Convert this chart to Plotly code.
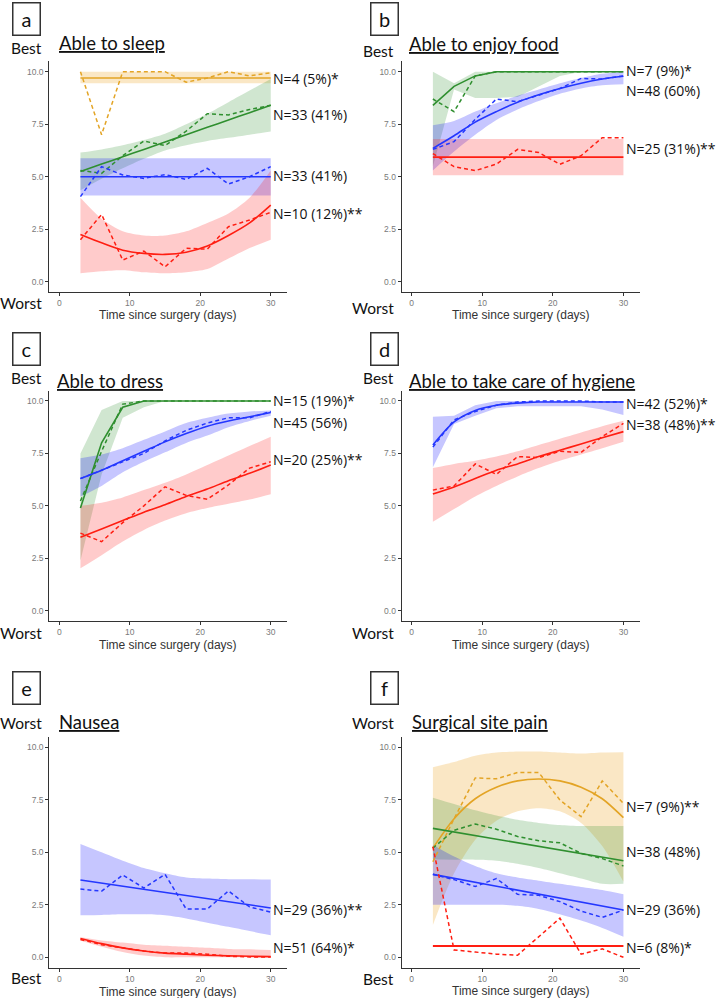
import plotly.graph_objects as go

W, H = 721, 998

# ---------------- data ----------------
days = [3, 6, 9, 12, 15, 18, 21, 24, 27, 30]
x_ticks = [0, 10, 20, 30]
y_ticks = [0, 2.5, 5, 7.5, 10]
y_tick_labels = ["0.0", "2.5", "5.0", "7.5", "10.0"]
x_title = "Time since surgery (days)"

panel_letters = ["a", "b", "c", "d", "e", "f"]
panel_titles = ["Able to sleep", "Able to enjoy food", "Able to dress",
                "Able to take care of hygiene", "Nausea", "Surgical site pain"]
top_labels = ["Best", "Best", "Best", "Best", "Worst", "Worst"]
bottom_labels = ["Worst", "Worst", "Worst", "Worst", "Best", "Best"]

# Panel a: Able to sleep
a_gold_obs = [10.0, 7.0, 10.0, 10.0, 10.0, 9.5, 9.7, 10.0, 9.8, 9.95]
a_gold_fit = [9.7] * 10
a_gold_lo = [9.45] * 10
a_gold_hi = [10.0] * 10
a_green_obs = [5.3, 5.16, 6.0, 6.7, 6.48, 7.17, 8.0, 7.94, 8.2, 8.4]
a_green_fit = [5.25, 5.6, 5.95, 6.3, 6.65, 7.0, 7.35, 7.7, 8.05, 8.4]
a_green_lo = [4.35, 4.9, 5.4, 5.85, 6.25, 6.5, 6.7, 6.85, 7.0, 7.15]
a_green_hi = [6.15, 6.3, 6.5, 6.75, 7.05, 7.5, 8.0, 8.55, 9.1, 9.65]
a_blue_obs = [4.05, 5.48, 5.08, 4.92, 5.1, 4.87, 5.4, 4.65, 5.0, 5.48]
a_blue_fit = [5.0] * 10
a_blue_lo = [4.1] * 10
a_blue_hi = [5.88] * 10
a_red_obs = [2.0, 3.2, 1.03, 1.46, 0.71, 1.59, 1.55, 2.62, 2.94, 3.3]
a_red_fit = [2.25, 1.85, 1.5, 1.35, 1.3, 1.4, 1.7, 2.2, 2.8, 3.65]
a_red_lo = [0.4, 0.5, 0.55, 0.45, 0.4, 0.45, 0.6, 1.1, 1.6, 2.0]
a_red_hi = [4.0, 3.0, 2.4, 2.2, 2.2, 2.4, 2.8, 3.25, 4.0, 5.3]
a_labels = ["N=4 (5%)*", "N=33 (41%)", "N=33 (41%)", "N=10 (12%)**"]

# Panel b: Able to enjoy food
b_green_obs = [8.7, 8.1, 9.8, 10.0, 10.0, 10.0, 10.0, 10.0, 10.0, 10.0]
b_green_fit = [8.4, 9.3, 9.8, 10.0, 10.0, 10.0, 10.0, 10.0, 10.0, 10.0]
b_green_lo = [5.5, 9.15, 8.75, 8.75, 8.8, 9.3, 9.8, 10.0, 10.0, 10.0]
b_green_hi = [10.0, 9.45, 10.0, 10.0, 10.0, 10.0, 10.0, 10.0, 10.0, 10.0]
b_blue_obs = [6.3, 6.67, 7.73, 8.7, 8.57, 8.9, 9.2, 9.68, 9.65, 9.8]
b_blue_fit = [6.35, 6.95, 7.6, 8.1, 8.55, 8.9, 9.2, 9.45, 9.65, 9.78]
b_blue_lo = [5.3, 6.2, 7.0, 7.7, 8.2, 8.6, 8.95, 9.2, 9.35, 9.4]
b_blue_hi = [7.45, 7.65, 8.1, 8.5, 8.85, 9.15, 9.45, 9.7, 9.9, 10.0]
b_red_obs = [6.1, 5.48, 5.29, 5.6, 6.3, 6.15, 5.59, 6.0, 6.86, 6.86]
b_red_fit = [5.93] * 10
b_red_lo = [5.07] * 10
b_red_hi = [6.79] * 10
b_labels = ["N=7 (9%)*", "N=48 (60%)", "N=25 (31%)**"]

# Panel c: Able to dress
c_green_obs = [5.23, 7.6, 9.85, 10.0, 10.0, 10.0, 10.0, 10.0, 10.0, 10.0]
c_green_fit = [4.9, 8.01, 9.7, 10.0, 10.0, 10.0, 10.0, 10.0, 10.0, 10.0]
c_green_lo = [2.4, 6.5, 9.2, 9.7, 10.0, 10.0, 10.0, 10.0, 10.0, 10.0]
c_green_hi = [7.5, 9.57, 10.0, 10.0, 10.0, 10.0, 10.0, 10.0, 10.0, 10.0]
c_blue_obs = [6.3, 6.7, 7.1, 7.5, 8.1, 8.6, 8.95, 9.2, 9.2, 9.5]
c_blue_fit = [6.3, 6.7, 7.15, 7.6, 8.05, 8.45, 8.8, 9.05, 9.25, 9.45]
c_blue_lo = [5.44, 5.95, 6.6, 7.1, 7.55, 8.0, 8.35, 8.75, 9.05, 9.3]
c_blue_hi = [7.27, 7.45, 7.75, 8.15, 8.55, 8.95, 9.2, 9.4, 9.5, 9.55]
c_red_obs = [3.7, 3.29, 4.2, 5.0, 5.91, 5.5, 5.31, 6.0, 6.8, 7.1]
c_red_fit = [3.5, 3.9, 4.3, 4.7, 5.05, 5.45, 5.8, 6.2, 6.55, 6.95]
c_red_lo = [2.02, 2.65, 3.3, 3.85, 4.3, 4.65, 4.9, 5.1, 5.3, 5.55]
c_red_hi = [5.0, 5.15, 5.4, 5.75, 6.1, 6.5, 6.95, 7.4, 7.85, 8.3]
c_labels = ["N=15 (19%)*", "N=45 (56%)", "N=20 (25%)**"]

# Panel d: Able to take care of hygiene
d_blue_obs = [7.8, 9.1, 9.5, 9.8, 9.95, 10.0, 10.0, 10.0, 9.95, 9.95]
d_blue_fit = [7.9, 9.0, 9.55, 9.8, 9.9, 9.95, 9.95, 9.95, 9.95, 9.95]
d_blue_lo = [6.84, 8.9, 9.3, 9.65, 9.75, 9.75, 9.75, 9.75, 9.6, 9.33]
d_blue_hi = [9.25, 9.3, 9.8, 10.0, 10.0, 10.0, 10.0, 10.0, 10.0, 10.0]
d_red_obs = [5.75, 5.95, 7.0, 6.5, 7.35, 7.3, 7.6, 7.55, 8.3, 8.93]
d_red_fit = [5.56, 5.9, 6.3, 6.7, 7.0, 7.35, 7.65, 7.95, 8.25, 8.54]
d_red_lo = [4.24, 4.85, 5.45, 5.95, 6.4, 6.8, 7.15, 7.45, 7.75, 8.06]
d_red_hi = [6.8, 7.0, 7.15, 7.35, 7.6, 7.9, 8.2, 8.5, 8.8, 9.06]
d_labels = ["N=42 (52%)*", "N=38 (48%)**"]

# Panel e: Nausea
e_blue_obs = [3.25, 3.15, 3.92, 3.3, 3.95, 2.3, 2.3, 3.16, 2.4, 2.15]
e_blue_fit = [3.68, 3.53, 3.38, 3.23, 3.08, 2.93, 2.8, 2.65, 2.5, 2.35]
e_blue_lo = [2.0, 2.02, 2.05, 2.05, 2.0, 1.85, 1.65, 1.45, 1.25, 1.05]
e_blue_hi = [5.4, 5.0, 4.6, 4.25, 4.0, 3.8, 3.75, 3.72, 3.72, 3.7]
e_red_obs = [0.85, 0.6, 0.45, 0.3, 0.2, 0.2, 0.15, 0.05, 0.02, 0.02]
e_red_fit = [0.9, 0.65, 0.45, 0.3, 0.2, 0.15, 0.1, 0.07, 0.05, 0.03]
e_red_lo = [0.8, 0.5, 0.25, 0.08, 0.0, 0.0, 0.0, 0.0, 0.0, 0.0]
e_red_hi = [0.95, 0.8, 0.7, 0.6, 0.55, 0.5, 0.45, 0.4, 0.38, 0.35]
e_labels = ["N=29 (36%)**", "N=51 (64%)*"]

# Panel f: Surgical site pain
f_gold_obs = [4.55, 6.6, 8.54, 8.5, 8.8, 8.8, 7.49, 6.7, 8.4, 7.33]
f_gold_fit = [5.2, 6.6, 7.55, 8.1, 8.4, 8.49, 8.4, 8.1, 7.55, 6.65]
f_gold_lo = [1.54, 4.0, 5.6, 6.5, 6.95, 7.1, 6.95, 6.4, 5.3, 3.6]
f_gold_hi = [9.05, 9.3, 9.6, 9.75, 9.8, 9.8, 9.75, 9.7, 9.75, 9.76]
f_green_obs = [5.2, 6.05, 6.35, 6.1, 5.75, 5.55, 5.45, 4.95, 4.7, 4.35]
f_green_fit = [6.14, 5.97, 5.8, 5.63, 5.46, 5.29, 5.12, 4.95, 4.78, 4.6]
f_green_lo = [4.67, 4.65, 4.65, 4.6, 4.45, 4.25, 4.0, 3.75, 3.5, 3.5]
f_green_hi = [7.6, 7.3, 7.0, 6.75, 6.55, 6.4, 6.3, 6.25, 6.25, 6.25]
f_blue_obs = [3.95, 3.7, 3.37, 3.75, 3.0, 2.95, 2.65, 2.2, 1.9, 2.25]
f_blue_fit = [3.95, 3.76, 3.57, 3.38, 3.19, 3.0, 2.81, 2.62, 2.43, 2.25]
f_blue_lo = [2.5, 2.5, 2.5, 2.5, 2.45, 2.3, 2.05, 1.75, 1.4, 0.98]
f_blue_hi = [5.35, 4.8, 4.35, 4.0, 3.8, 3.65, 3.5, 3.35, 3.2, 3.0]
f_red_obs = [5.27, 0.35, 0.25, 0.15, 0.1, 1.0, 1.86, 0.15, 0.4, 0.0]
f_red_fit = [0.54] * 10
f_labels = ["N=7 (9%)**", "N=38 (48%)", "N=29 (36%)", "N=6 (8%)*"]

# ---------------- styling ----------------
LINE = {"red": "#FF1E12", "blue": "#2437FF", "green": "#2F8F2F", "gold": "#E3A425"}
FILL = {"red": "rgba(255,20,20,0.22)", "blue": "rgba(10,10,255,0.23)",
        "green": "rgba(40,140,40,0.22)", "gold": "rgba(235,165,40,0.27)"}
TITLE_FONT = "Lato, 'Noto Sans', sans-serif"
LABEL_FONT = "'Open Sans', 'Noto Sans', sans-serif"
AXIS_FONT = "'Liberation Sans', Arial, sans-serif"

# series per panel: (colour, obs, fit, lo, hi, fit_shape, ribbon_shape)
panels = [
    [("gold", a_gold_obs, a_gold_fit, a_gold_lo, a_gold_hi, "linear", "linear"),
     ("green", a_green_obs, a_green_fit, a_green_lo, a_green_hi, "spline", "spline"),
     ("blue", a_blue_obs, a_blue_fit, a_blue_lo, a_blue_hi, "linear", "linear"),
     ("red", a_red_obs, a_red_fit, a_red_lo, a_red_hi, "spline", "spline")],
    [("green", b_green_obs, b_green_fit, b_green_lo, b_green_hi, "linear", "linear"),
     ("blue", b_blue_obs, b_blue_fit, b_blue_lo, b_blue_hi, "spline", "spline"),
     ("red", b_red_obs, b_red_fit, b_red_lo, b_red_hi, "linear", "linear")],
    [("green", c_green_obs, c_green_fit, c_green_lo, c_green_hi, "linear", "linear"),
     ("blue", c_blue_obs, c_blue_fit, c_blue_lo, c_blue_hi, "spline", "spline"),
     ("red", c_red_obs, c_red_fit, c_red_lo, c_red_hi, "spline", "spline")],
    [("blue", d_blue_obs, d_blue_fit, d_blue_lo, d_blue_hi, "spline", "linear"),
     ("red", d_red_obs, d_red_fit, d_red_lo, d_red_hi, "spline", "spline")],
    [("blue", e_blue_obs, e_blue_fit, e_blue_lo, e_blue_hi, "linear", "spline"),
     ("red", e_red_obs, e_red_fit, e_red_lo, e_red_hi, "spline", "spline")],
    [("gold", f_gold_obs, f_gold_fit, f_gold_lo, f_gold_hi, "spline", "spline"),
     ("green", f_green_obs, f_green_fit, f_green_lo, f_green_hi, "linear", "spline"),
     ("blue", f_blue_obs, f_blue_fit, f_blue_lo, f_blue_hi, "linear", "spline"),
     ("red", f_red_obs, f_red_fit, None, None, "linear", "linear")],
]
panel_labels = [a_labels, b_labels, c_labels, d_labels, e_labels, f_labels]
label_y = [[9.7, 7.95, 5.05, 3.25], [10.05, 9.1, 6.35], [10.0, 8.97, 7.2],
           [9.9, 8.9], [2.29, 0.48], [7.17, 5.03, 2.29, 0.48]]

# pixel layout (page pixels from the top-left corner)
col_x = [(49.3, 287.3), (401.7, 640.0)]
row_y = [(61.2, 292.2), (390.5, 621.2), (736.8, 967.8)]
box_c = [(27, 19.5), (384.5, 19.5), (27, 348.5), (384.5, 348.5), (27, 687.5), (384.5, 687.5)]
title_pos = [(57, 43), (407, 44), (55, 381), (407, 381), (57, 722), (410, 722)]
top_lab_y = [48, 51, 378, 378, 723, 723]
bot_lab_y = [303, 308, 633, 633, 978, 979]
xtitle_y = [315, 315, 645, 645, 992, 991]
lab_right = [43.5, 395.5]


def px(x):
    return x / W


def py(y):
    return 1 - y / H


fig = go.Figure()
annotations = []

for i, series in enumerate(panels):
    r, c = divmod(i, 2)
    ax = "" if i == 0 else str(i + 1)
    xref, yref = "x" + ax, "y" + ax
    # ribbons first
    for col, obs, fit, lo, hi, fshape, rshape in series:
        if lo is None:
            continue
        fig.add_trace(go.Scatter(x=days, y=lo, mode="lines", xaxis=xref, yaxis=yref,
                                 line=dict(width=0, shape=rshape, smoothing=0.8),
                                 hoverinfo="skip", showlegend=False))
        fig.add_trace(go.Scatter(x=days, y=hi, mode="lines", xaxis=xref, yaxis=yref,
                                 line=dict(width=0, shape=rshape, smoothing=0.8),
                                 fill="tonexty", fillcolor=FILL[col],
                                 hoverinfo="skip", showlegend=False))
    for col, obs, fit, lo, hi, fshape, rshape in series:
        fig.add_trace(go.Scatter(x=days, y=fit, mode="lines", xaxis=xref, yaxis=yref,
                                 line=dict(color=LINE[col], width=2 if lo is None else 1.6,
                                           shape=fshape, smoothing=0.8),
                                 showlegend=False))
        fig.add_trace(go.Scatter(x=days, y=obs, mode="lines", xaxis=xref, yaxis=yref,
                                 line=dict(color=LINE[col], width=1.5, dash="4px,3px"),
                                 showlegend=False))
    # N labels
    for txt, yv in zip(panel_labels[i], label_y[i]):
        annotations.append(dict(x=30.1, y=yv, xref=xref, yref=yref, text=txt,
                                showarrow=False, xanchor="left", yanchor="middle",
                                font=dict(family=LABEL_FONT, size=14, color="#111")))
    x0, x1 = col_x[c]
    y0, y1 = row_y[r]
    common = dict(showline=True, linecolor="#333", linewidth=1.1, ticks="outside",
                  ticklen=3, tickcolor="#333", showgrid=False, zeroline=False,
                  tickfont=dict(family=AXIS_FONT, size=8.5, color="#7a7a7a"))
    fig.update_layout(**{
        "xaxis" + ax: dict(domain=[px(x0), px(x1)], range=[-1.42, 32.35],
                           tickvals=x_ticks, anchor=yref, **common),
        "yaxis" + ax: dict(domain=[py(y1), py(y0)], range=[-0.5, 10.5],
                           tickvals=y_ticks, ticktext=y_tick_labels, anchor=xref, **common),
    })
    # letter box
    bx, by = box_c[i]
    annotations.append(dict(x=px(bx), y=py(by), xref="paper", yref="paper",
                            text=panel_letters[i], showarrow=False, xanchor="center",
                            yanchor="middle", width=26, height=31, borderwidth=1.5,
                            bordercolor="#333", borderpad=0,
                            font=dict(family=TITLE_FONT, size=20, color="#111")))
    # title
    tx, ty = title_pos[i]
    annotations.append(dict(x=px(tx), y=py(ty), xref="paper", yref="paper",
                            text="<u>" + panel_titles[i] + "</u>", showarrow=False,
                            xanchor="left", yanchor="middle",
                            font=dict(family=TITLE_FONT, size=18.5, color="#111")))
    # best / worst
    annotations.append(dict(x=px(lab_right[c]), y=py(top_lab_y[i]), xref="paper",
                            yref="paper", text=top_labels[i], showarrow=False,
                            xanchor="right", yanchor="middle",
                            font=dict(family=TITLE_FONT, size=15.5, color="#111")))
    annotations.append(dict(x=px(lab_right[c]), y=py(bot_lab_y[i]), xref="paper",
                            yref="paper", text=bottom_labels[i], showarrow=False,
                            xanchor="right", yanchor="middle",
                            font=dict(family=TITLE_FONT, size=15.5, color="#111")))
    # x axis title
    annotations.append(dict(x=px((x0 + x1) / 2), y=py(xtitle_y[i]), xref="paper",
                            yref="paper", text=x_title, showarrow=False,
                            xanchor="center", yanchor="middle",
                            font=dict(family=AXIS_FONT, size=12, color="#333")))

fig.update_layout(width=W, height=H, margin=dict(l=0, r=0, t=0, b=0),
                  paper_bgcolor="white", plot_bgcolor="white",
                  annotations=annotations, showlegend=False)

fig.write_html("out.html", config={"displayModeBar": False},
               post_script="document.body.style.margin='0';document.body.style.overflow='hidden';")
